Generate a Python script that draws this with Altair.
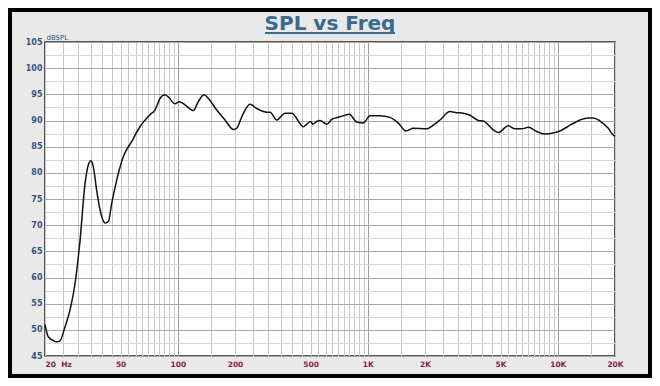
import altair as alt
import pandas as pd

# ---- data ----
freq_hz = [20, 20.8, 22, 23, 24, 25.5, 27.1, 28.8, 30.6, 32.5, 33.8, 34.9, 35.9, 37.4, 39,
           41.4, 43.1, 44.9, 47.7, 51.7, 57.2, 63.2, 71.4, 75.8, 80.6, 85.6, 89.1, 96.7,
           101.8, 109.2, 120.7, 128.2, 137.4, 144.8, 160.3, 177.2, 196, 204, 217, 240, 260,
           294, 306, 332, 367, 398, 458, 477, 501, 513, 538, 561, 608, 646, 714, 799, 874,
           947, 1027, 1160, 1309, 1447, 1589, 1735, 2041, 2211, 2398, 2708, 2937, 3181,
           3452, 3816, 4054, 4577, 4864, 5488, 5954, 6456, 6995, 7746, 8564, 9664, 10267,
           11592, 13088, 14472, 15376, 16674, 18440, 19590, 20000]
spl_db = [51.0, 48.7, 48.0, 47.7, 47.9, 50.6, 53.8, 58.9, 67.2, 78.0, 81.5, 82.3, 81.2,
          76.7, 72.9, 70.4, 70.7, 74.2, 78.6, 83.1, 86.0, 88.8, 91.1, 92.0, 94.2, 94.9,
          94.5, 93.2, 93.6, 93.0, 91.9, 93.6, 94.9, 94.2, 92.0, 90.1, 88.3, 88.5, 90.7,
          93.1, 92.3, 91.6, 91.6, 90.1, 91.4, 91.4, 88.8, 89.3, 89.8, 89.3, 89.8, 90.0,
          89.3, 90.2, 90.7, 91.2, 89.7, 89.5, 90.9, 90.9, 90.6, 89.5, 88.0, 88.5, 88.4,
          89.1, 90.1, 91.7, 91.5, 91.4, 91.0, 90.0, 89.9, 88.2, 87.7, 89.0, 88.4, 88.4,
          88.7, 87.9, 87.4, 87.7, 88.0, 89.1, 90.1, 90.5, 90.5, 89.9, 88.5, 87.2, 87.0]

x_grid_values = ([20, 25, 30, 35, 40, 45, 50, 55, 60, 65, 70, 75, 80, 85, 90, 95, 100]
                 + [150, 200, 250, 300, 350, 400, 450, 500, 550, 600, 650, 700, 750, 800,
                    850, 900, 950, 1000]
                 + [1500, 2000, 2500, 3000, 3500, 4000, 4500, 5000, 5500, 6000, 6500, 7000,
                    7500, 8000, 8500, 9000, 9500, 10000]
                 + [15000, 20000])
x_label_values = [20, 50, 100, 200, 500, 1000, 2000, 5000, 10000, 20000]
x_major_values = [100, 1000, 10000]
y_grid_values = [45 + 2.5 * i for i in range(25)]

title_text = "SPL vs Freq"
y_unit = "dBSPL"

df = pd.DataFrame({"freq": freq_hz, "spl": spl_db})

label_list = ",".join(str(v) for v in x_label_values)
major_list = ",".join(str(v) for v in x_major_values)
x_label_expr = (
    f"indexof([{label_list}], datum.value) < 0 ? '' : "
    "(datum.value == 20 ? '20\u00a0\u00a0Hz' : "
    "(datum.value >= 1000 ? (datum.value / 1000) + 'K' : '' + datum.value))"
)

BLUE = "#34557f"
MAROON = "#8c1a4c"
FONT = "DejaVu Sans"

x_axis = alt.Axis(
    values=x_grid_values,
    labelExpr=x_label_expr,
    labelOverlap=False,
    labelBound=False,
    labelFlush=False,
    labelColor=MAROON,
    labelFont=FONT,
    labelFontSize=7.5,
    labelFontWeight="bold",
    labelPadding=4,
    labelAlign={"condition": {"test": "datum.value == 20", "value": "left"}, "value": "center"},
    ticks=False,
    tickSize=0,
    domain=False,
    grid=True,
    gridColor={"condition": {"test": f"indexof([{major_list}], datum.value) >= 0",
                             "value": "#9c9c9c"}, "value": "#c8c8c8"},
    gridWidth=1,
    title=None,
)

y_axis = alt.Axis(
    values=y_grid_values,
    labelExpr="datum.value % 5 === 0 ? '' + datum.value : ''",
    labelOverlap=False,
    labelBound=False,
    labelFlush=False,
    labelColor=BLUE,
    labelFont=FONT,
    labelFontSize=8,
    labelFontWeight="bold",
    labelPadding=3,
    ticks=False,
    tickSize=0,
    domain=False,
    grid=True,
    gridColor={"condition": {"test": "datum.value % 5 === 0", "value": "#a8a8a8"},
               "value": "#d6d6d6"},
    gridWidth=1,
    title=y_unit,
    titleAngle=0,
    titleAlign="left",
    titleBaseline="bottom",
    titleX=1,
    titleY=-2,
    titleColor=BLUE,
    titleFont=FONT,
    titleFontSize=7,
    titleFontWeight="normal",
)

line = alt.Chart(df).mark_line(color="#111111", strokeWidth=1.5, interpolate="monotone").encode(
    x=alt.X("freq:Q", scale=alt.Scale(type="log", domain=[20, 20000], nice=False), axis=x_axis),
    y=alt.Y("spl:Q", scale=alt.Scale(domain=[45, 105], nice=False, zero=False), axis=y_axis),
)

one = alt.Data(values=[{"t": title_text}])

frame = alt.Chart(one).mark_rect(fill=None, stroke="#000000", strokeWidth=4).encode(
    x=alt.value(-35), x2=alt.value(605), y=alt.value(-32), y2=alt.value(334)
)

title = alt.Chart(one).mark_text(
    font=FONT, fontSize=20, fontWeight="bold", color="#3a6a8c", align="center", baseline="alphabetic"
).encode(x=alt.value(285), y=alt.value(-12), text="t:N")

underline = alt.Chart(one).mark_rule(color="#3a6a8c", strokeWidth=2).encode(
    x=alt.value(220), x2=alt.value(350), y=alt.value(-9)
)

chart = alt.layer(frame, line, title, underline).properties(
    width=570,
    height=314,
    autosize=alt.AutoSizeParams(type="none"),
    padding={"left": 37, "right": 37, "top": 34, "bottom": 22},
    background="#e9e9e9",
).configure_view(
    fill="#ffffff", stroke="#222222", strokeWidth=1.5
)

chart.save("out.html", embed_options={"renderer": "svg", "actions": False})
